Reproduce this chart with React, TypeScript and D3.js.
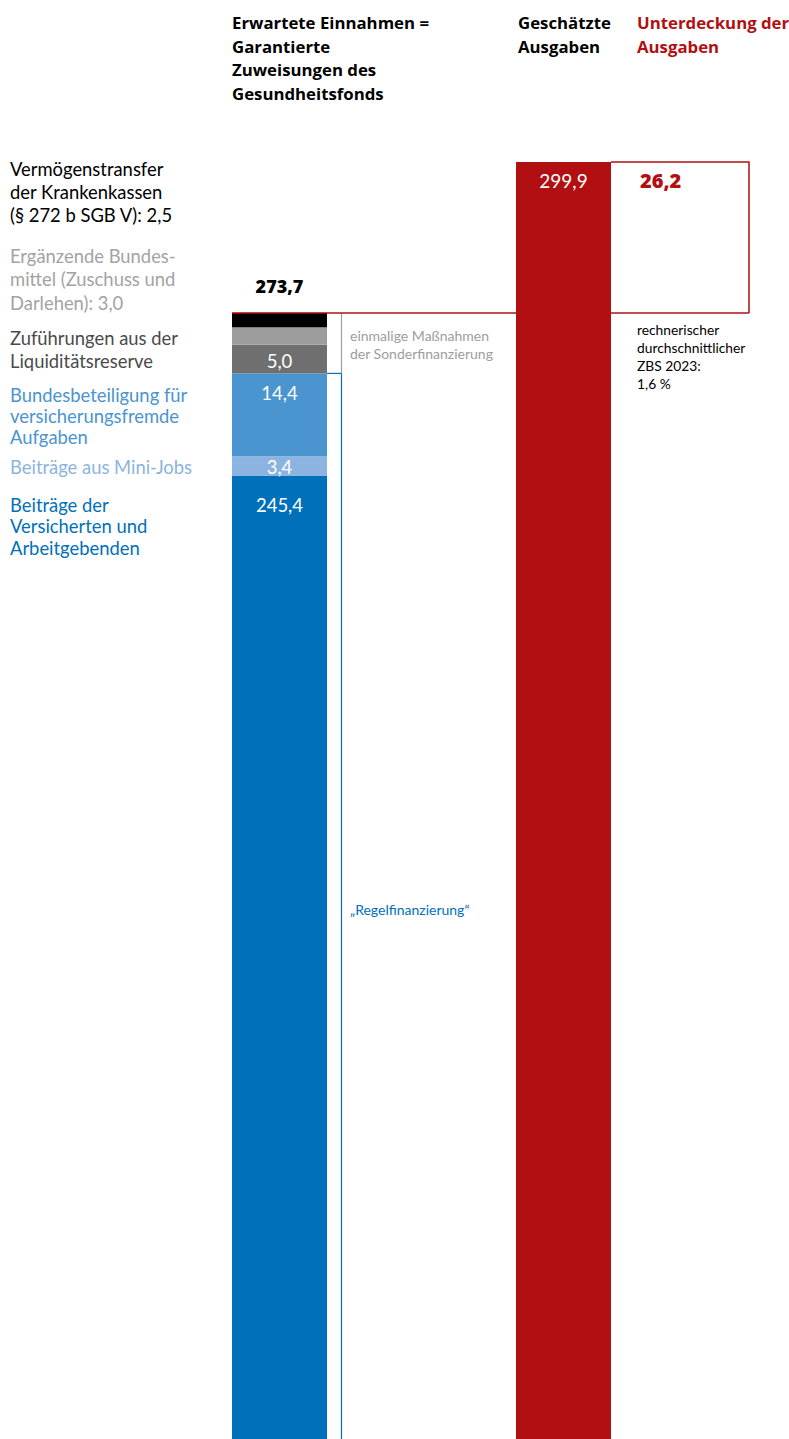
import React from "react";
import * as d3 from "d3";

const W = 789;
const H = 1439;

// Stacked segments of the income bar, from bottom to top
const incomeKeys = [
  "Beiträge",
  "MiniJobs",
  "Bundesbeteiligung",
  "Liquiditätsreserve",
  "Bundesmittel",
  "Vermögenstransfer",
];
const incomeValues = [245.4, 3.4, 14.4, 5.0, 3.0, 2.5];
const incomeColors = ["#0070ba", "#8cb4e0", "#4a94d0", "#6f6f6f", "#9d9d9d", "#000000"];
const incomeValueLabels = ["245,4", "3,4", "14,4", "5,0", "", ""];
const incomeTotal = 273.7;
const incomeTotalLabel = "273,7";

const expenseValue = 299.9;
const expenseLabel = "299,9";
const gapValue = 26.2;
const gapLabel = "26,2";

const barCategories = ["Einnahmen", "Ausgaben"];

const RED = "#b20f12";
const FONT = "Lato, 'Open Sans', sans-serif";
const HFONT = "'Open Sans', Lato, sans-serif";

export default function App() {
  const x = d3.scaleBand<string>().domain(barCategories).range([232, 611]).paddingInner(0.6655);
  const y = d3.scaleLinear().domain([0, expenseValue]).range([1889.5, 162]);
  const bw = x.bandwidth();
  const x0 = x("Einnahmen")!;
  const x1 = x("Ausgaben")!;

  const row: Record<string, number> = {};
  incomeKeys.forEach((k, i) => (row[k] = incomeValues[i]));
  const series = d3.stack<Record<string, number>>().keys(incomeKeys)([row]);

  const boxRight = 749;
  const bracketX = x0 + bw + 14.5;
  const yTop = y(incomeTotal);
  const regelTop = y(series[2][0][1]);
  const sonderBottom = regelTop;

  const labelDy: Record<string, (top: number, bottom: number) => number> = {
    Beiträge: (t) => t + 36,
    MiniJobs: (t, b) => b - 2,
    Bundesbeteiligung: (t) => t + 26.5,
    Liquiditätsreserve: (t, b) => b - 5.5,
  };

  const leftLabels: { lines: string[]; color: string; y: number; step: number }[] = [
    { lines: ["Vermögenstransfer", "der Krankenkassen", "(§ 272 b SGB V): 2,5"], color: "#000000", y: 176, step: 23 },
    { lines: ["Ergänzende Bundes-", "mittel (Zuschuss und", "Darlehen): 3,0"], color: "#a3a3a3", y: 262.5, step: 23.5 },
    { lines: ["Zuführungen aus der", "Liquiditätsreserve"], color: "#4a4a4a", y: 345, step: 23 },
    { lines: ["Bundesbeteiligung für", "versicherungsfremde", "Aufgaben"], color: "#4a94d0", y: 401.5, step: 21.2 },
    { lines: ["Beiträge aus Mini-Jobs"], color: "#8cb4e0", y: 474, step: 21 },
    { lines: ["Beiträge der", "Versicherten und", "Arbeitgebenden"], color: "#0070ba", y: 512, step: 21.3 },
  ];

  return (
    <svg
      width={W}
      height={H}
      style={{ position: "absolute", left: 0, top: 0, overflow: "hidden", background: "#fff" }}
      fontFamily={FONT}
    >
      {/* headers */}
      <text fontFamily={HFONT} fontSize={16.8} fontWeight={700} fill="#000">
        {["Erwartete Einnahmen =", "Garantierte", "Zuweisungen des", "Gesundheitsfonds"].map((t, i) => (
          <tspan key={i} x={232} y={29 + i * 23.6}>{t}</tspan>
        ))}
      </text>
      <text fontFamily={HFONT} fontSize={16.8} fontWeight={700} fill="#000">
        {["Geschätzte", "Ausgaben"].map((t, i) => (
          <tspan key={i} x={518} y={29 + i * 23.6}>{t}</tspan>
        ))}
      </text>
      <text fontFamily={HFONT} fontSize={16.8} fontWeight={700} fill={RED}>
        {["Unterdeckung der", "Ausgaben"].map((t, i) => (
          <tspan key={i} x={637} y={29 + i * 23.6}>{t}</tspan>
        ))}
      </text>

      {/* left labels */}
      {leftLabels.map((g, gi) => (
        <text key={gi} fontSize={18.4} fill={g.color}>
          {g.lines.map((t, i) => (
            <tspan key={i} x={10} y={g.y + i * g.step}>{t}</tspan>
          ))}
        </text>
      ))}

      {/* income stacked bar */}
      {series.map((s, i) => {
        const top = y(s[0][1]);
        const bottom = y(s[0][0]);
        return (
          <rect key={s.key} x={x0} y={top} width={bw} height={bottom - top} fill={incomeColors[i]} />
        );
      })}
      {series.map((s, i) => {
        const lbl = incomeValueLabels[i];
        if (!lbl) return null;
        const top = y(s[0][1]);
        const bottom = y(s[0][0]);
        const fn = labelDy[s.key as string];
        return (
          <text key={"l" + s.key} x={x0 + bw / 2} y={fn(top, bottom)} fontSize={18.5} fill="#fff" textAnchor="middle">
            {lbl}
          </text>
        );
      })}
      <text x={x0 + bw / 2} y={yTop - 20} fontFamily={HFONT} fontSize={18} fontWeight={800} fill="#000" textAnchor="middle">
        {incomeTotalLabel}
      </text>

      {/* bracket lines */}
      <line x1={bracketX} x2={bracketX} y1={yTop} y2={sonderBottom} stroke="#9d9d9d" strokeWidth={1.2} />
      <line x1={x0 + bw} x2={bracketX} y1={regelTop} y2={regelTop} stroke="#0070ba" strokeWidth={1.2} />
      <line x1={bracketX} x2={bracketX} y1={regelTop} y2={H} stroke="#0070ba" strokeWidth={1.2} />
      <text fontSize={14} fill="#9d9d9d">
        <tspan x={350} y={341}>einmalige Maßnahmen</tspan>
        <tspan x={350} y={358.5}>der Sonderfinanzierung</tspan>
      </text>
      <text x={350} y={915} fontSize={14} fill="#0070ba">„Regelfinanzierung“</text>

      {/* gap box */}
      <path
        d={`M${x1 + bw},${y(expenseValue)}H${boxRight}V${y(expenseValue - gapValue)}`}
        fill="none"
        stroke={RED}
        strokeWidth={1.5}
      />
      <line x1={x0} x2={boxRight} y1={y(expenseValue - gapValue)} y2={y(expenseValue - gapValue)} stroke={RED} strokeWidth={1.5} />

      {/* expenses bar */}
      <rect x={x1} y={y(expenseValue)} width={bw} height={y(0) - y(expenseValue)} fill={RED} />
      <text x={x1 + bw / 2} y={y(expenseValue) + 26} fontSize={19} fill="#fff" textAnchor="middle">
        {expenseLabel}
      </text>
      <text x={640} y={y(expenseValue) + 26} fontFamily={HFONT} fontSize={20} fontWeight={800} fill={RED}>
        {gapLabel}
      </text>
      <text fontSize={13.8} fill="#000">
        {["rechnerischer", "durchschnittlicher", "ZBS 2023:", "1,6 %"].map((t, i) => (
          <tspan key={i} x={637} y={335 + i * 18}>{t}</tspan>
        ))}
      </text>
    </svg>
  );
}
